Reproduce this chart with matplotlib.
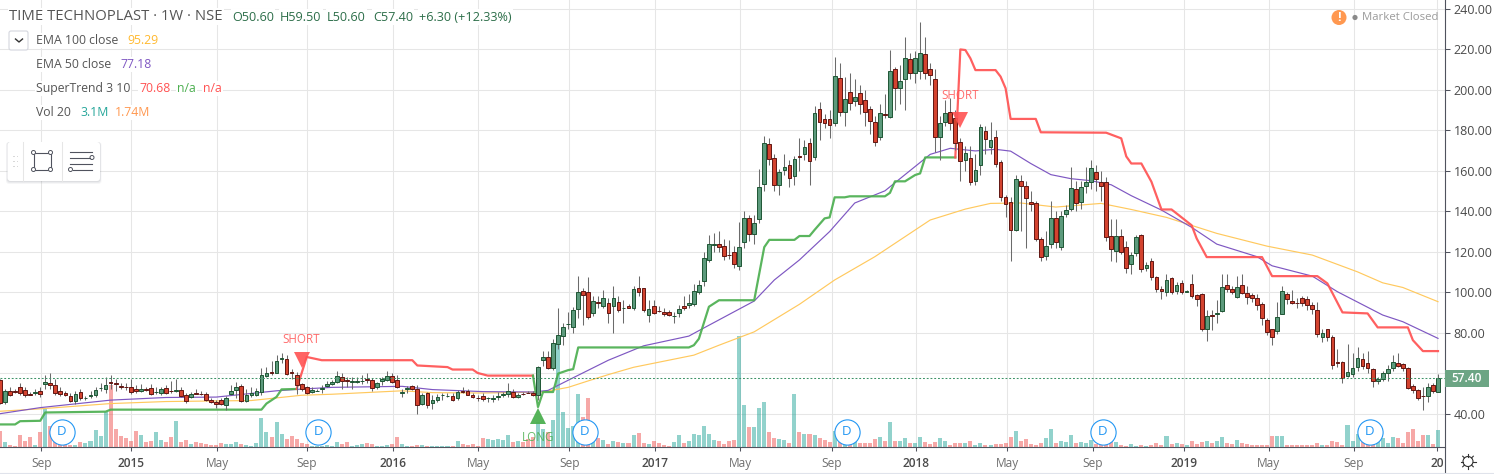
import numpy as np
import matplotlib
matplotlib.use("Agg")
import matplotlib.pyplot as plt
from matplotlib.patches import Circle, FancyBboxPatch, Rectangle

plt.rcParams["font.family"] = ["Open Sans", "DejaVu Sans"]

opens = [
    56.5, 46, 51, 51, 53, 51.6, 49.5, 50, 51, 54.8,
    55, 54, 51, 50, 48.7, 46.4, 50.5, 47.5, 48.5, 49,
    52.8, 52, 55.4, 55, 53.6, 53.4, 53.3, 52, 51.4, 52.2,
    52.5, 50.6, 50, 52.5, 51.4, 51.2, 51.5, 49.2, 48, 50.2,
    49.9, 49.5, 47, 46, 47, 44.5, 49.7, 51.8, 53.6, 46.4,
    49.3, 49.2, 50.8, 58.7, 60.6, 60.3, 67.2, 67.2, 60.6, 59,
    54.6, 53.3, 50.9, 51.3, 52, 53.6, 54.8, 55.4, 58.2, 56.4,
    55.4, 55.8, 56.3, 57, 56.8, 53, 56, 56.8, 58.7, 56.8,
    50.2, 52, 53.7, 52.4, 45, 50, 45.4, 47, 49, 48.6,
    48.9, 47.5, 51.4, 51, 49.4, 47.8, 48.6, 47.5, 47.4, 48,
    49, 49.5, 50.7, 48, 49.9, 50.3, 50.3, 49.4, 66.4, 68,
    62.8, 74.5, 78.3, 84.4, 82.6, 91.5, 100.7, 100, 89.8, 94.9,
    93.3, 94.5, 93, 95, 92, 93, 92, 102, 101.9, 88.5,
    93.3, 90.8, 90, 90.3, 88.2, 89.8, 93, 93.6, 94, 100.2,
    105.7, 116, 123.5, 123.6, 122.8, 118.5, 120, 113, 124.6, 136.4,
    128.5, 136, 153.4, 173, 166, 152.7, 160.1, 163, 157.3, 167,
    168, 173.8, 166.9, 190.2, 185.3, 185.3, 183.3, 205.5, 189, 199,
    194.5, 198.5, 194.8, 190.2, 184.1, 176.4, 188, 186.6, 210, 201,
    205, 215.2, 208, 209, 217.4, 210, 205, 176.7, 184.1, 189,
    185.8, 174, 165.2, 166, 155, 162.8, 179.7, 171.5, 176.4, 164,
    147, 144.3, 130.7, 154.7, 152.6, 144.7, 144.2, 126, 118, 123.6,
    136.4, 122.1, 138.4, 140.9, 150.8, 144.3, 152.6, 154.5, 159.5, 154.5,
    154.5, 127.8, 120.3, 127.8, 122.4, 113.7, 119.1, 128, 112, 115.2,
    107.6, 101.5, 100.2, 106.8, 100.5, 104.6, 100.2, 104.1, 98.4, 98.9,
    82, 88.6, 89, 90.5, 103.7, 101.7, 97.6, 103.3, 99.7, 98.5,
    96.9, 94, 86.2, 81.6, 81, 89, 98.9, 95.8, 94.7, 97.2,
    96.4, 93.6, 91, 78, 81.6, 78, 65.7, 65.5, 58.8, 59.4,
    63.2, 66.8, 64.8, 62, 56, 57.3, 59.9, 62.4, 65.2, 64.3,
    62.7, 53.8, 51.8, 48.9, 48.9, 54, 50.6,
]
highs = [
    57, 52, 53, 52, 55, 53, 50.5, 52, 53, 59,
    60, 57, 53, 51, 50, 51, 52, 48.5, 51, 53,
    55, 58, 59, 57, 55, 55, 57, 54, 54.5, 53,
    54.5, 53, 53, 54, 56.2, 57, 53, 50, 50.5, 52,
    51, 50.5, 47.5, 47, 47.5, 48.5, 54, 55.5, 54.5, 52,
    53, 52.5, 62.8, 63, 66, 69, 70, 69, 62, 60.5,
    55, 53.5, 53, 52, 54, 56, 56.5, 61, 60, 58,
    58, 58, 59, 60, 57.5, 55.5, 58, 61, 60, 59,
    52, 53.5, 54, 54, 50, 50.5, 49, 49.5, 50, 50,
    50, 51.5, 53, 52, 50, 49, 50, 48, 49, 50.5,
    50.5, 55, 52, 50, 50.5, 51, 51, 63.5, 71, 71,
    77, 92, 85, 90, 92.5, 108, 102, 107.5, 98, 98,
    101, 97, 103, 98, 96, 94, 103, 108, 102, 96,
    96, 93, 92, 91, 90, 93.5, 98, 99, 104, 106,
    120, 128, 129, 130, 126, 125.8, 123, 134.8, 140, 138,
    138, 161, 177, 176, 168, 161, 168, 165, 167, 176,
    175, 176, 192, 194, 188, 190, 216, 213, 206, 208,
    205, 202, 200, 192, 187, 193, 198, 219.5, 211, 212,
    226, 218, 219, 233.5, 226, 213, 210, 187, 195, 196,
    190, 176, 172, 172, 168, 183, 182, 184, 180, 165,
    148, 147, 158, 158, 155, 150, 145, 127, 130, 145,
    140, 140, 143, 162, 155, 155, 162, 165, 163, 160,
    157, 136, 136, 131, 125, 120, 128, 128.5, 115, 117,
    108, 103, 109, 107.5, 105, 106, 101, 109, 99, 99.5,
    91, 91, 96, 109, 109, 103, 108, 109, 103, 99.5,
    99, 95, 87, 82, 95, 103, 100, 101, 97, 98,
    98, 95, 95, 82, 82, 79, 72, 66, 74.5, 70,
    73, 70, 71, 62.5, 58, 61, 64, 69, 70, 65,
    63, 54.5, 52, 53, 55, 55, 59.5,
]
lows = [
    45, 45, 48.5, 50, 49, 48, 49, 49, 48, 52,
    52, 49, 48.5, 48.5, 46, 45, 47, 47, 47.5, 48,
    51, 50, 52, 51, 52, 51.5, 49.5, 50, 50.5, 51,
    49, 49.5, 49, 49.5, 50, 50.5, 48, 45.5, 47.5, 49.5,
    49, 46.5, 45.5, 43, 44.5, 42, 49, 47.5, 46, 46,
    48, 48.5, 49, 58, 59, 60, 65, 59, 57, 49.5,
    51, 49.5, 50, 51, 50, 53, 54, 55, 52, 53,
    52, 55, 54.5, 55, 51, 52, 54, 56, 55, 52.5,
    48, 50, 51.5, 40, 44.5, 43, 42.5, 46, 47, 48,
    46.5, 47, 50, 49, 47.5, 46.5, 46.5, 46, 46, 47,
    48, 48, 47.5, 47.5, 49, 50, 48.5, 47, 63.5, 62,
    61.5, 72, 74, 82, 80, 87, 84, 86.5, 88, 92,
    92, 85, 80, 90, 85, 92, 91, 98, 90, 85.5,
    89, 90, 88, 88, 85, 87.5, 91, 92, 93, 99,
    103, 115, 120, 120, 116, 116.5, 112, 111, 122, 125,
    124, 134, 150, 163, 150, 148, 158, 152, 153, 160,
    165, 153, 165, 175, 181, 176, 182, 187, 182, 190,
    192, 188, 182, 178, 172, 175, 186, 186, 190, 193,
    190, 205, 203, 205, 205, 202, 169, 165, 182, 180,
    170, 155, 160, 153, 153, 158, 168, 168, 162, 145,
    137, 115.5, 130, 130, 122, 140, 125, 115.5, 116, 122,
    122, 121, 137, 140, 140, 141, 149, 151, 150, 145,
    125, 115.5, 115, 119, 109.5, 109, 118, 110, 110.5, 106,
    100, 96.5, 98, 99, 99, 99, 100, 97, 93, 81,
    76, 81.5, 85, 90, 100, 99, 97, 99, 94, 95,
    91, 84, 79, 74, 79.5, 89, 94, 94, 92, 93,
    91, 89, 78, 75.5, 76, 62, 63, 55, 58, 58,
    61, 62, 60, 53, 54.5, 56, 56, 61, 63, 61,
    52, 50, 47, 42, 46, 50, 50.6,
]
closes = [
    45.4, 51, 49, 50.6, 50, 49, 49.3, 50.8, 49.8, 55.5,
    54.4, 50, 49.5, 49.2, 46.4, 49.5, 47.8, 47.9, 49.3, 51.5,
    52.9, 54, 55, 54.9, 53.2, 53, 50.5, 51.4, 52, 51.9,
    49.5, 50.6, 52, 50.3, 51, 51.9, 48.9, 46.4, 49.7, 49.8,
    49.7, 47, 46, 45, 45, 47.8, 51, 53, 46.4, 49.2,
    50, 51.3, 59, 60.3, 60.2, 66.2, 67.4, 59.8, 60.2, 54,
    52, 50, 51.8, 51.4, 52.8, 54.7, 55.8, 58.7, 56, 56.2,
    56, 56.2, 56.3, 56.7, 52.8, 55, 57, 58.7, 55.8, 53,
    50.7, 52.8, 52, 44.5, 49.4, 44.5, 47, 48, 49.1, 48.7,
    47, 50.7, 50.6, 49.4, 48, 47.6, 47.4, 47.6, 47.8, 48.8,
    49.5, 51.4, 48, 49.3, 49.7, 50.1, 49, 63, 67.9, 62.8,
    75, 79, 83, 84.5, 91, 100.2, 98.4, 87.8, 95.8, 94.7,
    97, 89.5, 97, 91, 92.4, 92.3, 101.7, 100, 91, 91.5,
    89.8, 90.7, 89.2, 88.5, 88.4, 91.5, 92.4, 94.5, 100.7, 103.4,
    116.7, 123.6, 123.7, 122.1, 118, 118.2, 113.7, 122.5, 136.8, 128.5,
    134, 152, 173.8, 165.6, 152.9, 159.5, 161.6, 156.5, 165.5, 166.6,
    171.5, 164.6, 188.2, 184, 183.3, 182.3, 206.7, 189, 195.2, 193.2,
    196.2, 192.7, 188.7, 184.6, 174, 188.2, 187.5, 209.1, 201, 204.2,
    215.4, 208, 215.4, 217.9, 208, 207, 176.7, 183.7, 188.2, 183.3,
    173.5, 164.9, 168.5, 154.2, 160.1, 181.3, 175.4, 175, 163.3, 146.8,
    143.4, 130.7, 155.7, 152.6, 146.3, 143.4, 126, 117.2, 123, 136.4,
    124.6, 137.8, 140.6, 151.2, 144.2, 151.7, 154.5, 161.4, 155.7, 152.3,
    127.3, 121.4, 127.5, 119.6, 112, 118.5, 127, 111.4, 113.2, 107.3,
    101.4, 100.5, 105.8, 99.9, 103.3, 99.9, 100.6, 98, 96.4, 82,
    88.4, 88.2, 89.6, 102.7, 101.4, 99.9, 102.7, 99.4, 97.4, 96.9,
    93.8, 87.4, 80.1, 77.7, 87.5, 100.4, 96.4, 94.8, 94.4, 94.4,
    93.8, 91.5, 79.1, 79.6, 78, 63.8, 65, 57.6, 60.7, 62.4,
    67.6, 63.7, 62.4, 56.1, 57.2, 59.9, 61.9, 65.3, 63.7, 62.4,
    52.8, 51.5, 47.6, 48.8, 53.3, 51.2, 57.4,
]
volumes = [
    3.0, .85, .36, .24, 2.2, 1.1, 1.75, .36, 2.7, 6.9,
    3.9, 2.1, 1.2, .65, .4, .4, .9, .7, 1.1, 3.1,
    2, 6.4, 11.2, 3.3, 2, 1.6, 1.1, 2.9, 2.2, .9,
    1.1, 2.7, 1.3, .9, 1.8, 4.7, .9, 1.3, .55, .9,
    .7, .55, .36, .36, .7, .55, .55, .9, .55, .36,
    .2, .7, 5.2, 2.7, 1.8, 4.5, 2.4, 1.5, 2, 1.4,
    .7, .55, .2, .2, .2, .36, .2, 1, .55, .85,
    .2, .3, .5, .7, .55, .2, .2, .3, .55, 1.8,
    .55, .2, .2, .36, .36, .2, .2, .2, .2, .1,
    .2, 1.1, .55, .36, .55, .1, 1.6, 1.45, 1.3, 1.45,
    1.3, 2.2, .9, 1.1, .9, 1.45, 1.8, 4.6, 3.3, 2.7,
    4.9, 18.8, 6.4, 3.5, 3.8, 9.6, 5.5, 8.9, 2.4, 1.6,
    1.3, .55, 1.1, .9, .7, .7, 2.2, 2.5, .7, .55,
    1.1, .7, .36, .2, .9, 2.2, .7, 1.1, 2.4, 2.2,
    3.8, 2.4, 1.3, 1.1, .55, 1.1, 1.3, 20.2, 7.6, 3.6,
    3.6, 7.1, 8.2, 2.7, 1.6, 1.45, 1.3, .7, 9.6, 2.7,
    2.4, 2.4, 2.2, 1.6, 1.3, .9, 3, .9, .7, .7,
    .9, .7, .7, .7, 1.45, 1.8, 1.1, 4.5, 1.1, 1.1,
    1.6, .7, .7, 1.8, .9, .55, .9, 1.6, 1.1, .36,
    .7, .7, .7, 1.1, .36, .7, .36, .36, .55, .55,
    .7, 1.8, 2.9, 1.1, 1.45, .55, .36, .7, 1.6, 3.3,
    .7, 1.1, .9, 2.2, .7, .9, .7, 1.3, .55, .9,
    1.1, .9, .9, .36, .2, .55, .2, .36, .2, .36,
    .7, .36, 2, .55, .7, .55, .36, 1.1, .55, .9,
    1.1, .7, 1.1, 1.8, .7, .55, 1.3, .7, .55, .36,
    .36, .36, .36, 2, 2, 2, .36, .36, .36, .36,
    .36, .36, .7, .36, .36, 1.1, .9, .36, 4, 1.1,
    2.4, .9, .9, .7, 1.3, 1.6, .7, 1.8, 1.6, .7,
    2.7, 3.3, 1.1, 2.2, 2.2, .55, 3.1,
]

ema50_weeks = [0, 8, 22, 33, 43, 55, 59, 66, 80, 86, 96, 106, 109, 113, 121, 128, 137, 139, 146, 150,
               154, 159, 165, 170, 176, 182, 185, 189, 194, 198, 201, 205, 209, 213, 217, 221, 225,
               231, 237, 242, 250, 253, 261, 266, 275, 279, 286]
ema50_vals = [40, 43, 46.7, 48, 48.2, 51.3, 52, 53, 53.5, 51.9, 50.9, 50.7, 51.5, 56.5, 66.4, 73.5, 78.3, 81,
              90.3, 95.6, 106, 115.9, 129.9, 144, 150, 162, 168, 171, 169.7, 170.5, 169.6, 163.5, 158, 156,
              155, 153, 147.6, 140.5, 132, 123.7, 117.5, 113, 107.9, 100.2, 88.7, 85.4, 77.18]
ema100_weeks = [0, 8, 22, 33, 50, 60, 66, 80, 86, 96, 108, 113, 117, 121, 126, 138, 143, 150, 159, 166,
                174, 185, 192, 197, 203, 210, 219, 225, 232, 242, 252, 261, 270, 275, 279, 286]
ema100_vals = [41.2, 42.4, 45, 46, 46.5, 49.1, 49.6, 51.3, 50.4, 50.2, 50.7, 53, 56.2, 59.3, 62.9, 68.9, 73.8,
               80.4, 94, 106, 117.5, 135.6, 141, 143.8, 144, 142, 143.8, 140.8, 136.9, 129, 122.7, 118.3, 110,
               104.6, 102.3, 95.29]

st_up1_weeks = [0, 3, 4, 8, 9, 21, 22, 52, 53, 55, 56, 59]
st_up1_vals = [34.7, 34.7, 36.3, 36.5, 40.6, 41, 42, 42, 45, 48.3, 52, 52.2]
st_down1_weeks = [59, 61, 64, 82, 83, 86, 89, 90, 94, 95, 97, 106]
st_down1_vals = [52.2, 68, 66.4, 66.4, 63.8, 63.4, 63, 61.8, 61.8, 60.1, 58.8, 58.8]
st_up2_weeks = [106, 107, 108, 110, 111, 113, 114, 115, 137, 138, 139, 141, 143, 150, 152, 153, 158, 159, 161,
                162, 164, 165, 166, 168, 169, 176, 177, 178, 180, 182, 183, 184, 190]
st_up2_vals = [58.8, 43.3, 50.7, 50.7, 59.8, 61.5, 62, 72.7, 72.7, 73.8, 77, 92.8, 96, 96, 122.2, 125.8, 125.8,
               127.7, 127.7, 130.7, 136.4, 136.9, 146.8, 146.8, 147.3, 147.3, 149, 154.7, 154.7, 157.8, 158.6,
               166.5, 166.5]
st_down2_weeks = [190, 191, 192, 193, 194, 198, 199, 200, 201, 206, 207, 220, 223, 224, 225, 227, 229, 231, 233,
                  237, 238, 240, 251, 253, 262, 264, 267, 272, 274, 280, 281, 283, 286]
st_down2_vals = [166.5, 219.8, 219.5, 215.4, 209.6, 209.6, 206.4, 200.6, 185.5, 185.5, 178.9, 178.7, 175.9, 167,
                 163.5, 163.5, 154.5, 140.8, 140.8, 133, 126.5, 117.3, 117.3, 107.9, 107.9, 104.3, 90, 89.5,
                 82.6, 82.6, 76.3, 70.9, 70.9]

date_ticks = [8.2, 26, 43.2, 61, 78.2, 95.1, 113.2, 130.3, 147.2, 165.4, 182.2, 200.3, 217.3, 235.4, 252.3, 269.3,
              285.8]
date_labels = ["Sep", "2015", "May", "Sep", "2016", "May", "Sep", "2017", "May", "Sep", "2018", "May", "Sep",
               "2019", "May", "Sep", "20"]
price_ticks = list(range(40, 241, 20))
dividend_weeks = [12.3, 63.3, 116.3, 168.4, 219.3, 272.4]
short_signals = [(60, 66.4), (191, 185)]
short_text_offsets = [14, 18]
long_signals = [(107, 38.8)]

FIG_W, FIG_H = 1494, 474
AXIS_RIGHT, AXIS_BOTTOM = 1444.5, 447
PX_PER_WEEK = 5.028
UP_BODY, UP_EDGE = "#5c9a7c", "#1e5634"
DOWN_BODY, DOWN_EDGE = "#d3432f", "#611612"
TEAL, RED_VOL = "#26a69a", "#ef5350"
ST_GREEN, ST_RED = "#4caf50", "#ff5252"
AXIS_COLOR = "#50535e"
TEXT_GRAY = "#555555"

weeks = np.arange(len(closes))
opens, highs, lows, closes, volumes = map(np.array, (opens, highs, lows, closes, volumes))
rising = closes >= opens

fig = plt.figure(figsize=(FIG_W / 100, FIG_H / 100), dpi=100, facecolor="white")
rect = [0, 1 - AXIS_BOTTOM / FIG_H, AXIS_RIGHT / FIG_W, AXIS_BOTTOM / FIG_H]

# grid and tick axes at the back, then volume, then price marks
ax = fig.add_axes(rect, zorder=1)
ax.set_xlim(0, AXIS_RIGHT / PX_PER_WEEK)
ax.set_ylim(23.56, 244.2)
ax.set_xticks(date_ticks)
ax.set_xticklabels(date_labels)
ax.set_yticks(price_ticks)
# the last price tag sits where 60.00 would be
ax.set_yticklabels(["" if p == 60 else f"{p:.2f}" for p in price_ticks])
ax.yaxis.tick_right()
ax.grid(True, color="#e6e6e6", linewidth=0.75)
ax.set_axisbelow(True)
ax.tick_params(axis="y", length=3.5, width=0.75, color=AXIS_COLOR, labelcolor="#4a4a4a", labelsize=9, pad=3)
ax.tick_params(axis="x", length=3, width=0.75, color=AXIS_COLOR, labelcolor="#6f6f6f", labelsize=8.6, pad=4)
for lab, txt in zip(ax.get_xticklabels(), date_labels):
    if txt.startswith("20"):
        lab.set_color("#4a4a4a")
        lab.set_fontweight("semibold")
for side in ("top", "left"):
    ax.spines[side].set_visible(False)
for side in ("right", "bottom"):
    ax.spines[side].set_color(AXIS_COLOR)
    ax.spines[side].set_linewidth(0.8)

ax_vol = fig.add_axes(rect, zorder=2, sharex=ax)
ax_vol.patch.set_visible(False)
ax_vol.axis("off")
ax_vol.set_ylim(0, AXIS_BOTTOM / 5.5)
ax_vol.bar(weeks, volumes, width=0.8, color=np.where(rising, TEAL, RED_VOL), alpha=0.5, linewidth=0)

ax_price = fig.add_axes(rect, zorder=3, sharex=ax)
ax_price.patch.set_visible(False)
ax_price.axis("off")
ax_price.set_ylim(ax.get_ylim())

ax_price.plot(ema100_weeks, ema100_vals, color="#ffc95e", linewidth=0.85, zorder=2)
ax_price.plot(ema50_weeks, ema50_vals, color="#7e57c2", linewidth=0.85, zorder=2)
for xs, ys, col in [(st_up1_weeks, st_up1_vals, ST_GREEN), (st_down1_weeks, st_down1_vals, ST_RED),
                    (st_up2_weeks, st_up2_vals, ST_GREEN), (st_down2_weeks, st_down2_vals, ST_RED)]:
    ax_price.plot(xs, ys, color=col, linewidth=1.6, alpha=0.92, solid_joinstyle="round", zorder=2)

ax_price.vlines(weeks, lows, highs, color="#6b6b6b", linewidth=0.75, zorder=3)
ax_price.bar(weeks, np.abs(closes - opens), bottom=np.minimum(opens, closes), width=0.74,
             color=np.where(rising, UP_BODY, DOWN_BODY), edgecolor=np.where(rising, UP_EDGE, DOWN_EDGE),
             linewidth=0.7, zorder=4)

ax_price.axhline(closes[-1], color="#3f9468", linewidth=0.75, linestyle=(0, (1.8, 1.8)), zorder=5)

# signal markers and dividend flags
ax_price.plot(*zip(*short_signals), linestyle="none", marker="v", markersize=11.5, color=ST_RED, alpha=0.9,
              markeredgewidth=0, zorder=6)
ax_price.plot(*zip(*long_signals), linestyle="none", marker="^", markersize=11.5, color=ST_GREEN, alpha=0.95,
              markeredgewidth=0, zorder=6)
for (week, price), off in zip(short_signals, short_text_offsets):
    ax_price.annotate("SHORT", (week, price), xytext=(0, off), textcoords="offset pixels", ha="center", va="bottom",
                      fontsize=8.4, color=ST_RED, alpha=0.85, zorder=6)
for week, price in long_signals:
    ax_price.annotate("LONG", (week, price), xytext=(0, -15), textcoords="offset pixels", ha="center", va="top",
                      fontsize=8.4, color=ST_GREEN, alpha=0.85, zorder=6, annotation_clip=False)
xform = ax_price.get_xaxis_transform()
ax_price.scatter(dividend_weeks, [0.0342] * len(dividend_weeks), transform=xform, s=330, facecolor="white",
                 edgecolor="#2196f3", linewidth=0.8, zorder=7)
for week in dividend_weeks:
    ax_price.text(week, 0.0342, "D", transform=xform, ha="center", va="center", fontsize=9.5, color="#2196f3",
                  zorder=8)

# last price tag on the right scale
yform = ax.get_yaxis_transform()
ax.add_patch(Rectangle((1, closes[-1] - 4.2), 44.5 / AXIS_RIGHT, 8.4, transform=yform, clip_on=False,
                       facecolor="#6ca584", edgecolor="none", zorder=10))
ax.text(1 + 22 / AXIS_RIGHT, closes[-1], f"{closes[-1]:.2f}", transform=yform, ha="center", va="center",
        fontsize=8.6, color="white", fontweight="semibold", zorder=11)

# chart furniture in pixel coordinates
ui = fig.add_axes([0, 0, 1, 1], zorder=10)
ui.set_xlim(0, FIG_W)
ui.set_ylim(FIG_H, 0)
ui.axis("off")
ui.plot([AXIS_RIGHT, AXIS_RIGHT], [AXIS_BOTTOM, FIG_H], color=AXIS_COLOR, linewidth=0.8)
ui.plot([0, FIG_W], [472.5, 472.5], color="#e0e3eb", linewidth=0.8)


def label(x, y, s, color, size=8.85, **kw):
    return ui.text(x, y, s, color=color, fontsize=size, va="center", ha="left",
                   bbox=dict(facecolor="white", edgecolor="none", pad=0.8), **kw)


label(9, 16.5, "TIME TECHNOPLAST · 1W · NSE", TEXT_GRAY, size=10.7)
ohlc_green = "#2c6e49"
for x, s in [(232, "O50.60"), (280, "H59.50"), (327, "L50.60"), (373, "C57.40"), (419, "+6.30 (+12.33%)")]:
    label(x, 17, s, ohlc_green, size=9.1)

label(36, 40.7, "EMA 100 close", TEXT_GRAY)
label(127, 40.7, "95.29", "#ffb92e")
label(36, 64.3, "EMA 50 close", TEXT_GRAY)
label(120, 64.3, "77.18", "#7e57c2")
label(36, 88.7, "SuperTrend 3 10", TEXT_GRAY)
label(139, 88.7, "70.68", ST_RED)
label(177, 88.7, "n/a", ST_GREEN)
label(203, 88.7, "n/a", ST_RED)
label(36, 112.7, "Vol 20", TEXT_GRAY)
label(80, 112.7, "3.1M", TEAL)
label(115, 112.7, "1.74M", "#ff9850")

# collapse button
ui.add_patch(FancyBboxPatch((9, 31), 19, 19, boxstyle="round,pad=0,rounding_size=2", facecolor="white",
                            edgecolor="#d4d6de", linewidth=0.8))
ui.plot([15.5, 19, 22.5], [39, 42, 39], color="#333333", linewidth=1)

# drawing toolbar with soft shadow
for off, alpha in [(3, 0.05), (2, 0.07), (1, 0.09)]:
    ui.add_patch(FancyBboxPatch((7.5 - off / 2, 142), 92.5 + off, 39 + off, boxstyle="round,pad=0,rounding_size=3",
                                facecolor="#5a6070", edgecolor="none", alpha=alpha))
ui.add_patch(FancyBboxPatch((7.5, 142), 92.5, 39, boxstyle="round,pad=0,rounding_size=3", facecolor="white",
                            edgecolor="none"))
ui.plot([22.5, 22.5], [142, 181], color="#e6e6e6", linewidth=0.75)
ui.plot([62, 62], [142, 181], color="#e6e6e6", linewidth=0.75)
for dx in (13, 16.5):
    for dy in (155.5, 160.5, 165.5):
        ui.add_patch(Rectangle((dx, dy), 1.6, 1.6, facecolor="#d8d8d8", edgecolor="none"))
ui.add_patch(Rectangle((33.5, 152.5), 17, 17, fill=False, edgecolor="#50535e", linewidth=0.8))
for cx, cy in [(33.5, 152.5), (50.5, 152.5), (33.5, 169.5), (50.5, 169.5)]:
    ui.add_patch(Circle((cx, cy), 2, facecolor="white", edgecolor="#50535e", linewidth=0.7))
for x0, x1, yy in [(69.5, 92, 151.5), (69.5, 90, 157.5), (69.5, 92, 163.5), (72.5, 92, 169.5)]:
    ui.plot([x0, x1], [yy, yy], color="#50535e", linewidth=0.8)
ui.add_patch(Circle((92, 157.5), 2, facecolor="white", edgecolor="#50535e", linewidth=0.7))
ui.add_patch(Circle((70.5, 169.5), 2, facecolor="white", edgecolor="#50535e", linewidth=0.7))

# market status
ui.add_patch(Circle((1339, 17.5), 7.5, facecolor="#ff9850", edgecolor="none"))
ui.text(1339, 17.5, "!", color="white", fontsize=9, fontweight="bold", ha="center", va="center")
ui.add_patch(Circle((1355, 17.5), 2.6, facecolor="#8a8a8a", edgecolor="none"))
ui.text(1362, 17.5, "Market Closed", color="#9b9b9b", fontsize=8.2, ha="left", va="center")

# settings gear
ui.add_patch(Circle((1468, 461.5), 5, fill=False, edgecolor="#333333", linewidth=0.8))
for ang in np.arange(0, 360, 45):
    dx, dy = np.cos(np.radians(ang)), np.sin(np.radians(ang))
    ui.plot([1468 + 5 * dx, 1468 + 7.5 * dx], [461.5 + 5 * dy, 461.5 + 7.5 * dy], color="#333333", linewidth=0.8)

fig.savefig("out.png", dpi=100)
